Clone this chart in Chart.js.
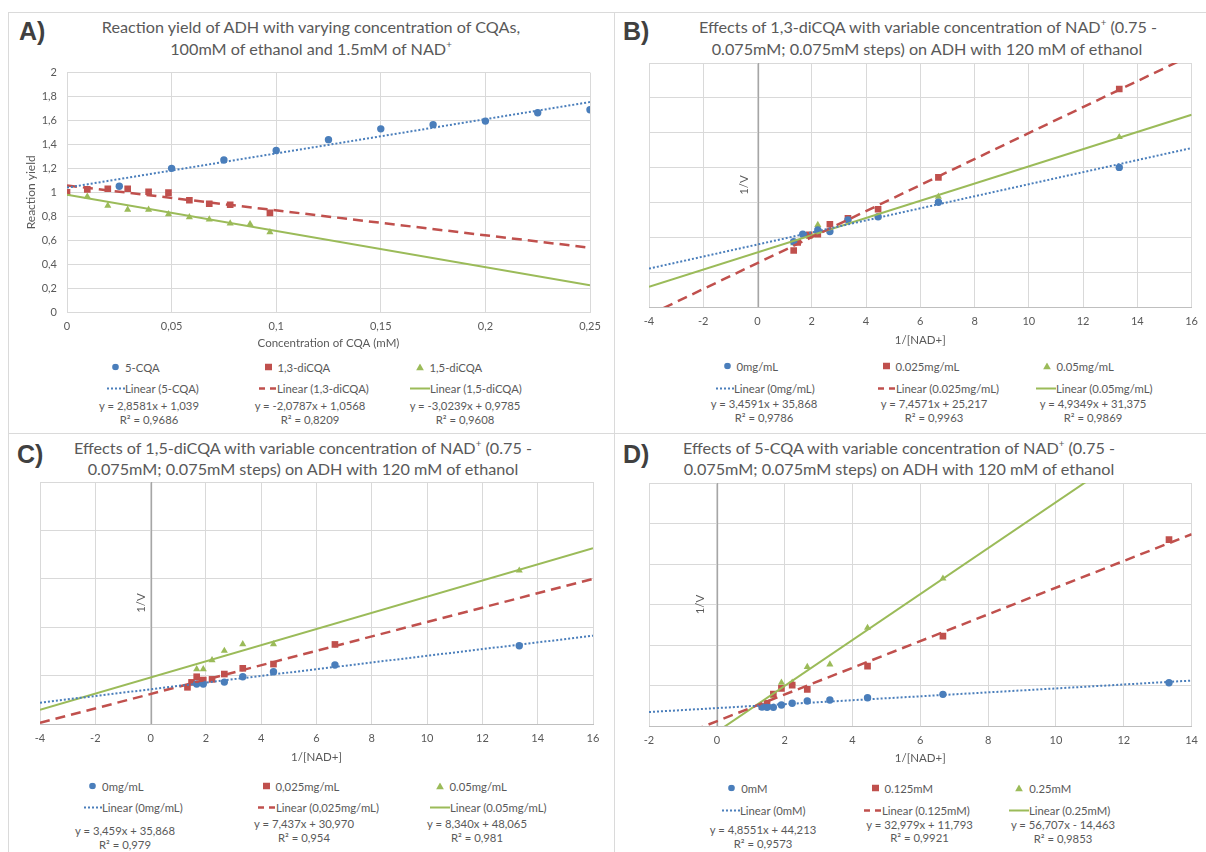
<!DOCTYPE html>
<html>
<head>
<meta charset="utf-8">
<script src="https://cdn.jsdelivr.net/npm/chart.js@4.4.1/dist/chart.umd.min.js"></script>
<style>
    body { margin: 0; background: #fff; width: 1206px; height: 852px; position: relative; overflow: hidden;
           font-family: Lato, 'Open Sans', sans-serif; color: #595959; }
    canvas { position: absolute; }
    .abs { position: absolute; white-space: nowrap; }
    .sep { position: absolute; background: #dadada; }
    .ttl { font-size: 16.2px; transform: translate(-50%, -50%); }
    .tag { font-family: 'Liberation Sans', Arial, sans-serif; font-weight: bold; font-size: 25px; color: #404040; transform: translateY(-50%); }
    .lg { font-size: 11.3px; transform: translateY(-50%); display: flex; align-items: center; }
    .eq { font-size: 11.3px; transform: translate(-50%, -50%); }
    sup { font-size: 0.6em; vertical-align: 0.7em; line-height: 0; }
</style>
</head>
<body>
<div class="sep" style="left:8px;top:12px;width:1198px;height:1px"></div>
<div class="sep" style="left:8px;top:12px;width:1px;height:840px"></div>
<div class="sep" style="left:614px;top:12px;width:1px;height:840px"></div>
<div class="sep" style="left:8px;top:433px;width:1198px;height:1px"></div>

<div class="abs tag" style="left:19px;top:31px">A)</div>
<div class="abs tag" style="left:623px;top:31px">B)</div>
<div class="abs tag" style="left:17px;top:454px">C)</div>
<div class="abs tag" style="left:623px;top:454px">D)</div>

<div class="abs ttl" style="left:311px;top:26px">Reaction yield of ADH with varying concentration of CQAs,</div>
<div class="abs ttl" style="left:311px;top:48px">100mM of ethanol and 1.5mM of NAD<sup>+</sup></div>
<div class="abs ttl" style="left:928px;top:26px">Effects of 1,3-diCQA with variable concentration of NAD<sup>+</sup> (0.75 -</div>
<div class="abs ttl" style="left:927px;top:48px">0.075mM; 0.075mM steps) on ADH with 120 mM of ethanol</div>
<div class="abs ttl" style="left:303px;top:447px">Effects of 1,5-diCQA with variable concentration of NAD<sup>+</sup> (0.75 -</div>
<div class="abs ttl" style="left:303px;top:468px">0.075mM; 0.075mM steps) on ADH with 120 mM of ethanol</div>
<div class="abs ttl" style="left:899px;top:447px">Effects of 5-CQA with variable concentration of NAD<sup>+</sup> (0.75 -</div>
<div class="abs ttl" style="left:899px;top:468px">0.075mM; 0.075mM steps) on ADH with 120 mM of ethanol</div>

<canvas id="chartA" width="612" height="294" style="left:0;top:56px"></canvas>
<canvas id="chartB" width="592" height="292" style="left:614px;top:55px"></canvas>
<canvas id="chartC" width="612" height="288" style="left:0;top:476px"></canvas>
<canvas id="chartD" width="592" height="289" style="left:614px;top:476px"></canvas>

<script>
(function() {
    'use strict';

    // ---- A) reaction yield vs CQA concentration (mM)
    const a5cqaX   = [0.025, 0.05, 0.075, 0.1, 0.125, 0.15, 0.175, 0.2, 0.225, 0.25];
    const a5cqaY   = [1.05, 1.20, 1.27, 1.35, 1.44, 1.53, 1.565, 1.595, 1.665, 1.69];
    const a13X     = [0, 0.0097, 0.0195, 0.029, 0.039, 0.0485, 0.0585, 0.068, 0.078, 0.097];
    const a13Y     = [1.0, 1.025, 1.03, 1.03, 1.005, 0.997, 0.934, 0.904, 0.896, 0.828];
    const a15X     = [0, 0.0097, 0.0195, 0.029, 0.039, 0.0485, 0.0585, 0.068, 0.078, 0.0875, 0.097];
    const a15Y     = [0.995, 0.965, 0.888, 0.855, 0.855, 0.817, 0.792, 0.773, 0.74, 0.735, 0.667];
    const aTrend5  = [[0, 1.039], [0.25, 1.754]];
    const aTrend13 = [[0, 1.057], [0.25, 0.537]];
    const aTrend15 = [[0, 0.979], [0.25, 0.223]];
    const aNames   = ['5-CQA', '1,3-diCQA', '1,5-diCQA'];
    const aEqs     = ['y = 2,8581x + 1,039', 'y = -2,0787x + 1,0568', 'y = -3,0239x + 0,9785'];
    const aR2      = ['0,9686', '0,8209', '0,9608'];

    // ---- B) 1,3-diCQA, Lineweaver-Burk
    const b0X   = [1.333, 1.667, 2.222, 2.667, 3.333, 4.444, 6.667, 13.333];
    const b0Y   = [37.5, 41.8, 44.2, 43.3, 50.0, 51.8, 60.1, 80.1];
    const b025X = [1.333, 1.481, 1.905, 2.222, 2.667, 3.333, 4.444, 6.667, 13.333];
    const b025Y = [32.4, 37.0, 41.4, 41.8, 47.5, 50.9, 56.1, 74.4, 125.1];
    const b05X  = [1.333, 1.905, 2.222, 4.444, 6.667, 13.333];
    const b05Y  = [36.6, 40.4, 47.1, 51.5, 63.3, 97.5];
    const bTrend0   = [[-4, 22.03], [16, 91.21]];
    const bTrend025 = [[-4, -4.61], [16, 144.53]];
    const bTrend05  = [[-4, 11.64], [16, 110.33]];
    const bNames = ['0mg/mL', '0.025mg/mL', '0.05mg/mL'];
    const bEqs   = ['y = 3,4591x + 35,868', 'y = 7,4571x + 25,217', 'y = 4,9349x + 31,375'];
    const bR2    = ['0,9786', '0,9963', '0,9869'];

    // ---- C) 1,5-diCQA
    const c0X   = [1.667, 1.905, 2.667, 3.333, 4.444, 6.667, 13.333];
    const c0Y   = [41.3, 41.3, 43.3, 48.8, 54.0, 60.9, 80.8];
    const c025X = [1.333, 1.481, 1.667, 1.905, 2.222, 2.667, 3.333, 4.444, 6.667];
    const c025Y = [37.9, 43.0, 48.8, 45.4, 46.1, 51.6, 57.5, 61.9, 82.2];
    const c05X  = [1.667, 1.905, 2.222, 2.667, 3.333, 4.444, 13.333];
    const c05Y  = [56.7, 56.7, 66.0, 75.6, 82.5, 82.5, 158.5];
    const cTrend0   = [[-4, 22.03], [16, 91.21]];
    const cTrend025 = [[-4, 1.22], [16, 149.96]];
    const cTrend05  = [[-4, 14.7], [16, 181.5]];
    const cNames = ['0mg/mL', '0,025mg/mL', '0.05mg/mL'];
    const cEqs   = ['y = 3,459x + 35,868', 'y = 7,437x + 30,970', 'y = 8,340x + 48,065'];
    const cR2    = ['0,979', '0,954', '0,981'];

    // ---- D) 5-CQA
    const d0X   = [1.333, 1.481, 1.667, 1.905, 2.222, 2.667, 3.333, 4.444, 6.667, 13.333];
    const d0Y   = [47.0, 46.1, 46.1, 51.8, 56.0, 61.6, 64.1, 69.9, 78.1, 106.8];
    const d125X = [1.333, 1.481, 1.667, 1.905, 2.222, 2.667, 4.444, 6.667, 13.333];
    const d125Y = [47.7, 56.0, 79.0, 93.0, 101.0, 90.3, 147.9, 221.9, 460.3];
    const d25X  = [1.667, 1.905, 2.222, 2.667, 3.333, 4.444, 6.667];
    const d25Y  = [74.0, 107.0, 107.0, 146.0, 152.0, 242.5, 364.1];
    const dTrend0   = [[-2, 34.5], [14, 112.2]];
    const dTrend125 = [[-2, -54.17], [14, 473.5]];
    const dTrend25  = [[-2, -127.9], [14, 779.4]];
    const dNames = ['0mM', '0.125mM', '0.25mM'];
    const dEqs   = ['y = 4,8551x + 44,213', 'y = 32,979x + 11,793', 'y = 56,707x - 14,463'];
    const dR2    = ['0,9573', '0,9921', '0,9853'];

    const BLUE = '#4A7EBB', RED = '#C0504D', GREEN = '#9BBB59';
    const TEXT = '#595959', GRID = '#d9d9d9';
    const FONT = 'Lato, "Open Sans", sans-serif';

    function comma(v) {
        return String(Math.round(v * 1000) / 1000).replace('.', ',');
    }

    function markers(label, xs, ys, color, style, radius) {
        return {
            label: label,
            data: xs.map(function(x, i) { return { x: x, y: ys[i] }; }),
            pointStyle: style, pointRadius: radius, pointHoverRadius: radius,
            backgroundColor: color, borderColor: color, pointBorderWidth: 0,
            showLine: false, order: 2
        };
    }

    function trend(label, ends, color, dash, width) {
        return {
            label: label,
            data: ends.map(function(p) { return { x: p[0], y: p[1] }; }),
            borderColor: color, borderWidth: width, borderDash: dash, borderCapStyle: 'butt',
            pointRadius: 0, showLine: true, fill: false, tension: 0, order: 1
        };
    }

    function seriesSet(names, pts, trends) {
        return [
            markers(names[0], pts[0][0], pts[0][1], BLUE, 'circle', 3.7),
            markers(names[1], pts[1][0], pts[1][1], RED, 'rect', 4.7),
            markers(names[2], pts[2][0], pts[2][1], GREEN, 'triangle', 4.1),
            trend('Linear (' + names[0] + ')', trends[0], BLUE, [2, 2], 2),
            trend('Linear (' + names[1] + ')', trends[1], RED, [10, 6], 2.5),
            trend('Linear (' + names[2] + ')', trends[2], GREEN, [], 2)
        ];
    }

    // vertical axis crossing at x = 0 with its "1/V" title
    const zeroAxis = {
        id: 'zeroAxis',
        beforeDatasetsDraw: function(chart, args, opts) {
            if (!opts.show) return;
            const ctx = chart.ctx, a = chart.chartArea;
            const px = Math.round(chart.scales.x.getPixelForValue(0)) + 0.5;
            ctx.save();
            ctx.strokeStyle = '#a6a6a6';
            ctx.lineWidth = 1.3;
            ctx.beginPath(); ctx.moveTo(px, a.top); ctx.lineTo(px, a.bottom); ctx.stroke();
            ctx.translate(px - opts.offset, (a.top + a.bottom) / 2);
            ctx.rotate(-Math.PI / 2);
            ctx.fillStyle = TEXT;
            ctx.font = '11.5px ' + FONT;
            ctx.textAlign = 'center';
            ctx.textBaseline = 'middle';
            ctx.fillText(opts.text, 0, 0);
            ctx.restore();
        }
    };

    function makeChart(id, datasets, p) {
        return new Chart(document.getElementById(id), {
            type: 'scatter',
            data: { datasets: datasets },
            options: {
                responsive: false, animation: false,
                layout: { padding: p.pad },
                plugins: {
                    legend: { display: false }, tooltip: { enabled: false },
                    zeroAxis: { show: !!p.zeroOffset, offset: p.zeroOffset || 0, text: '1/V' }
                },
                scales: {
                    x: {
                        type: 'linear', min: p.x[0], max: p.x[1],
                        ticks: { stepSize: p.x[2], color: TEXT, font: { size: 11, family: FONT }, padding: 8, maxRotation: 0, autoSkip: false, callback: comma },
                        grid: { color: GRID, drawTicks: false },
                        border: { color: p.xBorder },
                        title: { display: true, text: p.xTitle, color: TEXT, font: { size: 11.5, family: FONT }, padding: 0 },
                        afterFit: function(s) { s.height = p.xh; }
                    },
                    y: {
                        type: 'linear', min: p.y[0], max: p.y[1],
                        ticks: { stepSize: p.y[2], display: !!p.yTitle, color: TEXT, font: { size: 11, family: FONT }, padding: 10, callback: comma },
                        grid: { color: GRID, drawTicks: false },
                        border: { display: !!p.yTitle, color: GRID },
                        title: { display: !!p.yTitle, text: p.yTitle || '', color: TEXT, font: { size: 12, family: FONT }, padding: { top: 4, bottom: 0 } },
                        afterFit: function(s) { s.width = p.yw; }
                    }
                }
            },
            plugins: [zeroAxis]
        });
    }

    makeChart('chartA', seriesSet(aNames, [[a5cqaX, a5cqaY], [a13X, a13Y], [a15X, a15Y]], [aTrend5, aTrend13, aTrend15]), {
        pad: { left: 20, top: 12, right: 22, bottom: 0 }, x: [0, 0.25, 0.05], y: [0, 2, 0.2],
        xTitle: 'Concentration of CQA (mM)', yTitle: 'Reaction yield', xh: 38, yw: 47, xBorder: GRID
    });
    makeChart('chartB', seriesSet(bNames, [[b0X, b0Y], [b025X, b025Y], [b05X, b05Y]], [bTrend0, bTrend025, bTrend05]), {
        pad: { left: 35, top: 8, right: 8, bottom: 0 }, x: [-4, 16, 2], y: [0, 140, 20],
        xTitle: '1/[NAD+]', xh: 40, yw: 0, xBorder: '#bfbfbf', zeroOffset: 14
    });
    makeChart('chartC', seriesSet(cNames, [[c0X, c0Y], [c025X, c025Y], [c05X, c05Y]], [cTrend0, cTrend025, cTrend05]), {
        pad: { left: 40, top: 6, right: 19, bottom: 0 }, x: [-4, 16, 2], y: [0, 250, 50],
        xTitle: '1/[NAD+]', xh: 40, yw: 0, xBorder: '#bfbfbf', zeroOffset: 10
    });
    makeChart('chartD', seriesSet(dNames, [[d0X, d0Y], [d125X, d125Y], [d25X, d25Y]], [dTrend0, dTrend125, dTrend25]), {
        pad: { left: 35, top: 7, right: 8, bottom: 0 }, x: [-2, 14, 2], y: [0, 600, 100],
        xTitle: '1/[NAD+]', xh: 39, yw: 0, xBorder: '#bfbfbf', zeroOffset: 17
    });

    // Excel style legends: marker row, trendline row, equation + R² under each column
    const markerSvg = [
        '<svg width="7" height="7"><circle cx="3.5" cy="3.5" r="3.3" fill="' + BLUE + '"/></svg>',
        '<svg width="7" height="7"><rect x="0" y="0" width="7" height="7" fill="' + RED + '"/></svg>',
        '<svg width="8" height="7"><polygon points="4,0 8,7 0,7" fill="' + GREEN + '"/></svg>'
    ];
    const lineSvg = [
        '<svg width="18" height="4"><line x1="0" y1="2" x2="18" y2="2" stroke="' + BLUE + '" stroke-width="2" stroke-dasharray="2,2"/></svg>',
        '<svg width="18" height="4"><line x1="0" y1="2" x2="18" y2="2" stroke="' + RED + '" stroke-width="2.5" stroke-dasharray="6,5"/></svg>',
        '<svg width="20" height="4"><line x1="0" y1="2" x2="20" y2="2" stroke="' + GREEN + '" stroke-width="2"/></svg>'
    ];

    function put(cls, html, left, top) {
        const el = document.createElement('div');
        el.className = 'abs ' + cls;
        el.style.left = left + 'px';
        el.style.top = top + 'px';
        el.innerHTML = html;
        document.body.appendChild(el);
    }

    function legend(names, eqs, r2, L) {
        for (let i = 0; i < 3; i++) {
            put('lg', markerSvg[i] + '<span style="margin-left:6px">' + names[i] + '</span>', L.mx[i] - 3.5, L.my);
            put('lg', lineSvg[i] + '<span>Linear (' + names[i] + ')</span>', L.lx[i], L.ly);
            put('eq', eqs[i], L.ex[i], L.ey[i]);
            put('eq', 'R² = ' + r2[i], L.ex[i], L.ry[i]);
        }
    }

    legend(aNames, aEqs, aR2, { mx: [115.5, 268, 419], my: 367, lx: [107, 259, 410], ly: 388,
        ex: [149, 310, 465], ey: [405, 405, 405], ry: [419, 419, 419] });
    legend(bNames, bEqs, bR2, { mx: [727, 886, 1046], my: 366, lx: [716, 878, 1036], ly: 388,
        ex: [764, 934, 1093], ey: [403, 403, 403], ry: [417, 417, 417] });
    legend(cNames, cEqs, cR2, { mx: [92.6, 266, 439], my: 786, lx: [84, 258, 430], ly: 807,
        ex: [125, 304, 477], ey: [830, 823, 823], ry: [844, 837, 837] });
    legend(dNames, dEqs, dR2, { mx: [731.7, 875, 1018.7], my: 788, lx: [722, 864, 1009], ly: 810,
        ex: [763, 919.5, 1063], ey: [829, 824, 824], ry: [843, 837, 838] });
})();
</script>
</body>
</html>
